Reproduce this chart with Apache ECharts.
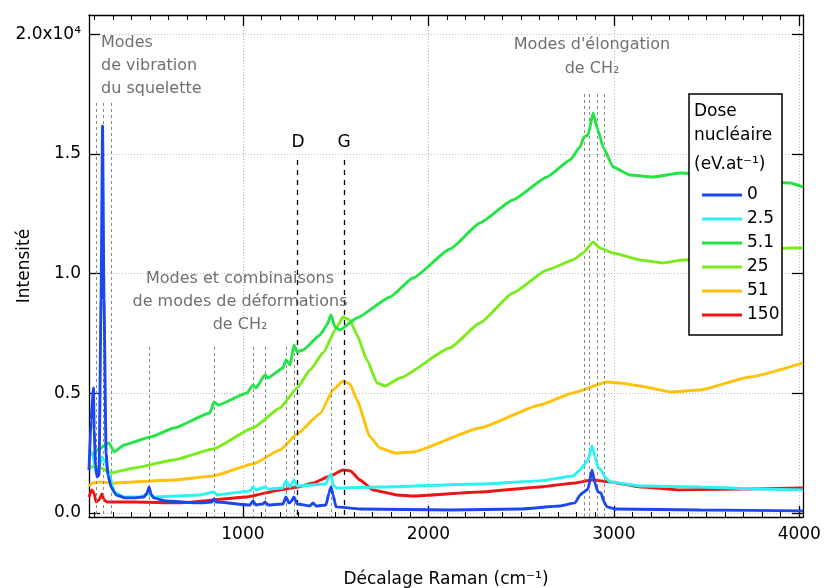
<!DOCTYPE html>
<html>
<head>
<meta charset="utf-8">
<script src="https://cdn.jsdelivr.net/npm/echarts@6/dist/echarts.min.js"></script>
<style>html,body{margin:0;padding:0;background:#fff}#c{width:825px;height:588px}</style>
</head>
<body>
<div id="c"></div>
<script>
// ---------- data ----------
const seriesNames = ['0', '2.5', '5.1', '25', '51', '150'];
const seriesColors = ['#1a48ee', '#2ef2f2', '#22e545', '#7aec1c', '#ffc20a', '#ee1414'];

const xTickLabels = [1000, 2000, 3000, 4000];
const yTickValues = [0, 5000, 10000, 15000, 20000];

// dose 0
const x0 = [170,181,194,198,205,213,224,235,243,251,262,272,289,316,364,413,467,483,494,504,520,580,768,833,844,855,1038,1054,1070,1108,1119,1135,1216,1232,1248,1259,1275,1292,1362,1378,1394,1448,1464,1475,1486,1502,1631,2117,2494,2710,2791,2818,2839,2861,2882,2898,2914,2931,2947,2963,3006,3465,4020];
const y0 = [1796,3885,5221,3467,2005,1504,1587,8897,16165,8897,2506,1587,1086,752,627,627,668,835,1086,794,627,501,418,459,585,459,334,501,334,376,459,334,376,668,418,459,668,376,292,418,292,334,835,1086,752,251,167,125,167,292,418,752,877,1002,1796,1253,877,835,459,251,167,125,84];
// dose 2.5
const x1 = [170,192,208,224,240,256,278,305,359,445,494,515,768,844,860,1038,1054,1070,1119,1135,1216,1232,1254,1275,1292,1448,1464,1475,1486,1502,1739,2278,2602,2780,2818,2839,2861,2882,2898,2914,2931,2952,2979,3141,3465,3788,4020];
const y1 = [2632,2423,1671,1880,2339,2130,1671,877,668,668,794,668,752,877,752,919,1086,961,1086,1002,1044,1337,1086,1378,1128,1211,1504,1629,1170,1044,1086,1211,1337,1545,1796,2005,2214,2799,2381,1921,1796,1504,1295,1128,1086,1002,961];
// dose 5.1
const x2 = [170,197,213,278,305,359,504,628,822,844,866,1022,1054,1070,1119,1135,1216,1232,1254,1275,1292,1324,1416,1453,1475,1496,1523,1615,1793,1917,2117,2278,2456,2640,2764,2818,2839,2861,2888,2914,2942,2996,3087,3211,3357,3950,4020];
const y2 = [2423,2506,2632,2924,2548,2840,3175,3550,4177,4636,4511,5012,5346,5221,5764,5639,6057,6391,6182,7017,6725,6808,7435,7853,8270,7769,7644,8145,9022,9816,11027,12113,13074,14035,14745,15288,15705,15789,16708,15998,15288,14452,14118,14035,14202,13784,13617];
// dose 25
const x3 = [170,202,235,289,413,628,839,1054,1200,1292,1362,1432,1507,1540,1577,1615,1669,1723,1766,1847,2117,2278,2456,2640,2780,2834,2888,2925,2996,3141,3265,3373,3950,4020];
const y3 = [1880,1963,1880,1671,1880,2214,2673,3550,4386,5221,5973,6683,7769,8187,8062,7435,6391,5430,5305,5639,6900,7936,9189,10150,10568,10860,11320,11069,10860,10568,10443,10568,11069,11069];
// dose 51
const x4 = [170,192,229,289,628,839,1054,1200,1292,1416,1486,1540,1577,1615,1685,1739,1820,1917,2278,2602,2780,2963,3033,3141,3303,3465,3734,4020];
const y4 = [1128,1253,1295,1253,1378,1545,2047,2632,3300,4150,5138,5514,5388,4720,3175,2715,2506,2548,3550,4511,5012,5472,5430,5305,5054,5138,5681,6266];
// dose 150
const x5 = [170,186,197,208,224,240,251,267,413,661,1022,1200,1300,1378,1470,1540,1580,1631,1701,1831,1917,2278,2602,2791,2882,2979,3141,3357,4020];
const y5 = [668,961,835,459,543,794,543,459,459,418,668,961,1086,1253,1545,1796,1754,1378,961,752,710,877,1086,1253,1378,1295,1086,961,1044];

// reference lines (cm-1) and their top heights
const skeletonLines = [208, 245, 289];
const skeletonTop = 17126;
const deformLines = [494, 844, 1054, 1119, 1232, 1275, 1475];
const deformTop = 6934;
const stretchLines = [2839, 2866, 2909, 2947];
const stretchTop = 17502;
const dgLines = [1292, 1545];
const dgTop = 14745;

const X_MIN = 170, X_MAX = 4020, Y_MIN = -170, Y_MAX = 20800;

// ---------- chart ----------
const FONT = 'DejaVu Sans';
const xsAll = [x0, x1, x2, x3, x4, x5];
const ysAll = [y0, y1, y2, y3, y4, y5];
const xMinor = [];
for (let v = 200; v <= 4000; v += 100) xMinor.push(v);

const chart = echarts.init(document.getElementById('c'), null, {renderer: 'canvas'});

const drawOrder = [5, 4, 3, 2, 1, 0];
const series = drawOrder.map((k, j) => ({
  name: seriesNames[k],
  type: 'line',
  xAxisIndex: 0, yAxisIndex: 0,
  data: xsAll[k].map((x, i) => [x, ysAll[k][i]]),
  symbol: 'none', showSymbol: false,
  smooth: 0.15, smoothMonotone: 'x',
  color: seriesColors[k],
  lineStyle: {color: seriesColors[k], width: 2.9},
  z: 3 + j,
  animation: false
}));

function vlines(list, top, style) {
  return list.map(x => [{coord: [x, top], lineStyle: style}, {coord: [x, Y_MIN]}]);
}
const grayDash = {color: '#888', width: 1, type: [3, 3]};
const blackDash = {color: '#000', width: 1.3, type: [5, 5]};
series.push({
  name: 'refs', type: 'line', data: [], z: 1, silent: true,
  markLine: {
    silent: true, symbol: ['none', 'none'], label: {show: false}, animation: false,
    data: [].concat(
      vlines(skeletonLines, skeletonTop, grayDash),
      vlines(deformLines, deformTop, grayDash),
      vlines(stretchLines, stretchTop, grayDash),
      vlines(dgLines, dgTop, blackDash)
    )
  }
});

const axisBlack = {show: true, onZero: false, lineStyle: {color: '#000', width: 1.3}};
const axisNone = {show: false, onZero: false};
const gridDot = {show: true, lineStyle: {color: '#bbb', width: 1, type: [1, 2]}};

const option = {
  animation: false,
  backgroundColor: '#fff',
  textStyle: {fontFamily: FONT},
  grid: {left: 89, right: 22, top: 15, bottom: 71, containLabel: false, outerBoundsMode: 'none'},
  xAxis: [
    {type: 'value', min: X_MIN, max: X_MAX, position: 'bottom',
     axisLine: axisBlack,
     axisTick: {show: true, inside: true, length: 5, customValues: xMinor, lineStyle: {color: '#000', width: 1}},
     axisLabel: {customValues: xTickLabels, fontSize: 17, color: '#000', margin: 9, fontFamily: FONT,
       formatter: v => String(v)},
     splitLine: {show: false},
     name: 'Décalage Raman (cm⁻¹)', nameLocation: 'middle', nameGap: 54, nameMoveOverlap: false,
     nameTextStyle: {fontSize: 17, color: '#000', fontFamily: FONT}},
    {type: 'value', min: X_MIN, max: X_MAX, position: 'bottom',
     axisLine: axisNone,
     axisTick: {show: true, inside: true, length: 11, customValues: xTickLabels, lineStyle: {color: '#000', width: 1.3}},
     axisLabel: {show: false}, splitLine: gridDot},
    {type: 'value', min: X_MIN, max: X_MAX, position: 'top',
     axisLine: axisBlack,
     axisTick: {show: true, inside: true, length: 5, customValues: xMinor, lineStyle: {color: '#000', width: 1}},
     axisLabel: {show: false}, splitLine: {show: false}},
    {type: 'value', min: X_MIN, max: X_MAX, position: 'top',
     axisLine: axisNone,
     axisTick: {show: true, inside: true, length: 11, customValues: xTickLabels, lineStyle: {color: '#000', width: 1.3}},
     axisLabel: {show: false}, splitLine: {show: false}}
  ],
  yAxis: [
    {type: 'value', min: Y_MIN, max: Y_MAX, position: 'left',
     axisLine: axisBlack,
     axisTick: {show: true, inside: true, length: 11, customValues: yTickValues, lineStyle: {color: '#000', width: 1.3}},
     axisLabel: {customValues: yTickValues, fontSize: 17, color: '#000', margin: 8, fontFamily: FONT,
       formatter: v => v === 20000 ? '2.0x10⁴' : (v / 10000).toFixed(1)},
     splitLine: gridDot,
     name: 'Intensité', nameLocation: 'middle', nameGap: 56, nameRotate: 90, nameMoveOverlap: false,
     nameTextStyle: {fontSize: 17, color: '#000', fontFamily: FONT}},
    {type: 'value', min: Y_MIN, max: Y_MAX, position: 'right',
     axisLine: axisBlack,
     axisTick: {show: true, inside: true, length: 11, customValues: yTickValues, lineStyle: {color: '#000', width: 1.3}},
     axisLabel: {show: false}, splitLine: {show: false}}
  ],
  legend: {
    data: seriesNames,
    orient: 'vertical', left: 697, top: 180,
    icon: 'rect', itemWidth: 40, itemHeight: 3, itemGap: 4,
    textStyle: {fontSize: 17, color: '#000', fontFamily: FONT, lineHeight: 20},
    z: 60, selectedMode: false
  },
  graphic: [
    {type: 'rect', z: 50, shape: {x: 689, y: 94, width: 93, height: 241},
     style: {fill: '#fff', stroke: '#000', lineWidth: 1.5}},
    {type: 'text', z: 61, x: 694, y: 100,
     style: {text: 'Dose\nnucléaire', font: '17px "DejaVu Sans"', fill: '#000', lineHeight: 24, align: 'left', verticalAlign: 'top'}},
    {type: 'text', z: 61, x: 694, y: 156,
     style: {text: '(eV.at⁻¹)', font: '17px "DejaVu Sans"', fill: '#000', align: 'left', verticalAlign: 'top'}},
    {type: 'text', z: 20, x: 101, y: 31,
     style: {text: 'Modes\nde vibration\ndu squelette', font: '16px "DejaVu Sans"', fill: '#707070', lineHeight: 23, align: 'left', verticalAlign: 'top'}},
    {type: 'text', z: 20, x: 240, y: 267,
     style: {text: 'Modes et combinaisons\nde modes de déformations\nde CH₂', font: '16px "DejaVu Sans"', fill: '#707070', lineHeight: 23, align: 'center', verticalAlign: 'top'}},
    {type: 'text', z: 20, x: 592, y: 33,
     style: {text: "Modes d'élongation\nde CH₂", font: '16px "DejaVu Sans"', fill: '#707070', lineHeight: 24, align: 'center', verticalAlign: 'top'}},
    {type: 'text', z: 20, x: 298, y: 143,
     style: {text: 'D', font: '17px "DejaVu Sans"', fill: '#000', align: 'center', verticalAlign: 'middle'}},
    {type: 'text', z: 20, x: 344, y: 143,
     style: {text: 'G', font: '17px "DejaVu Sans"', fill: '#000', align: 'center', verticalAlign: 'middle'}}
  ],
  series: series
};
chart.setOption(option);
</script>
</body>
</html>
